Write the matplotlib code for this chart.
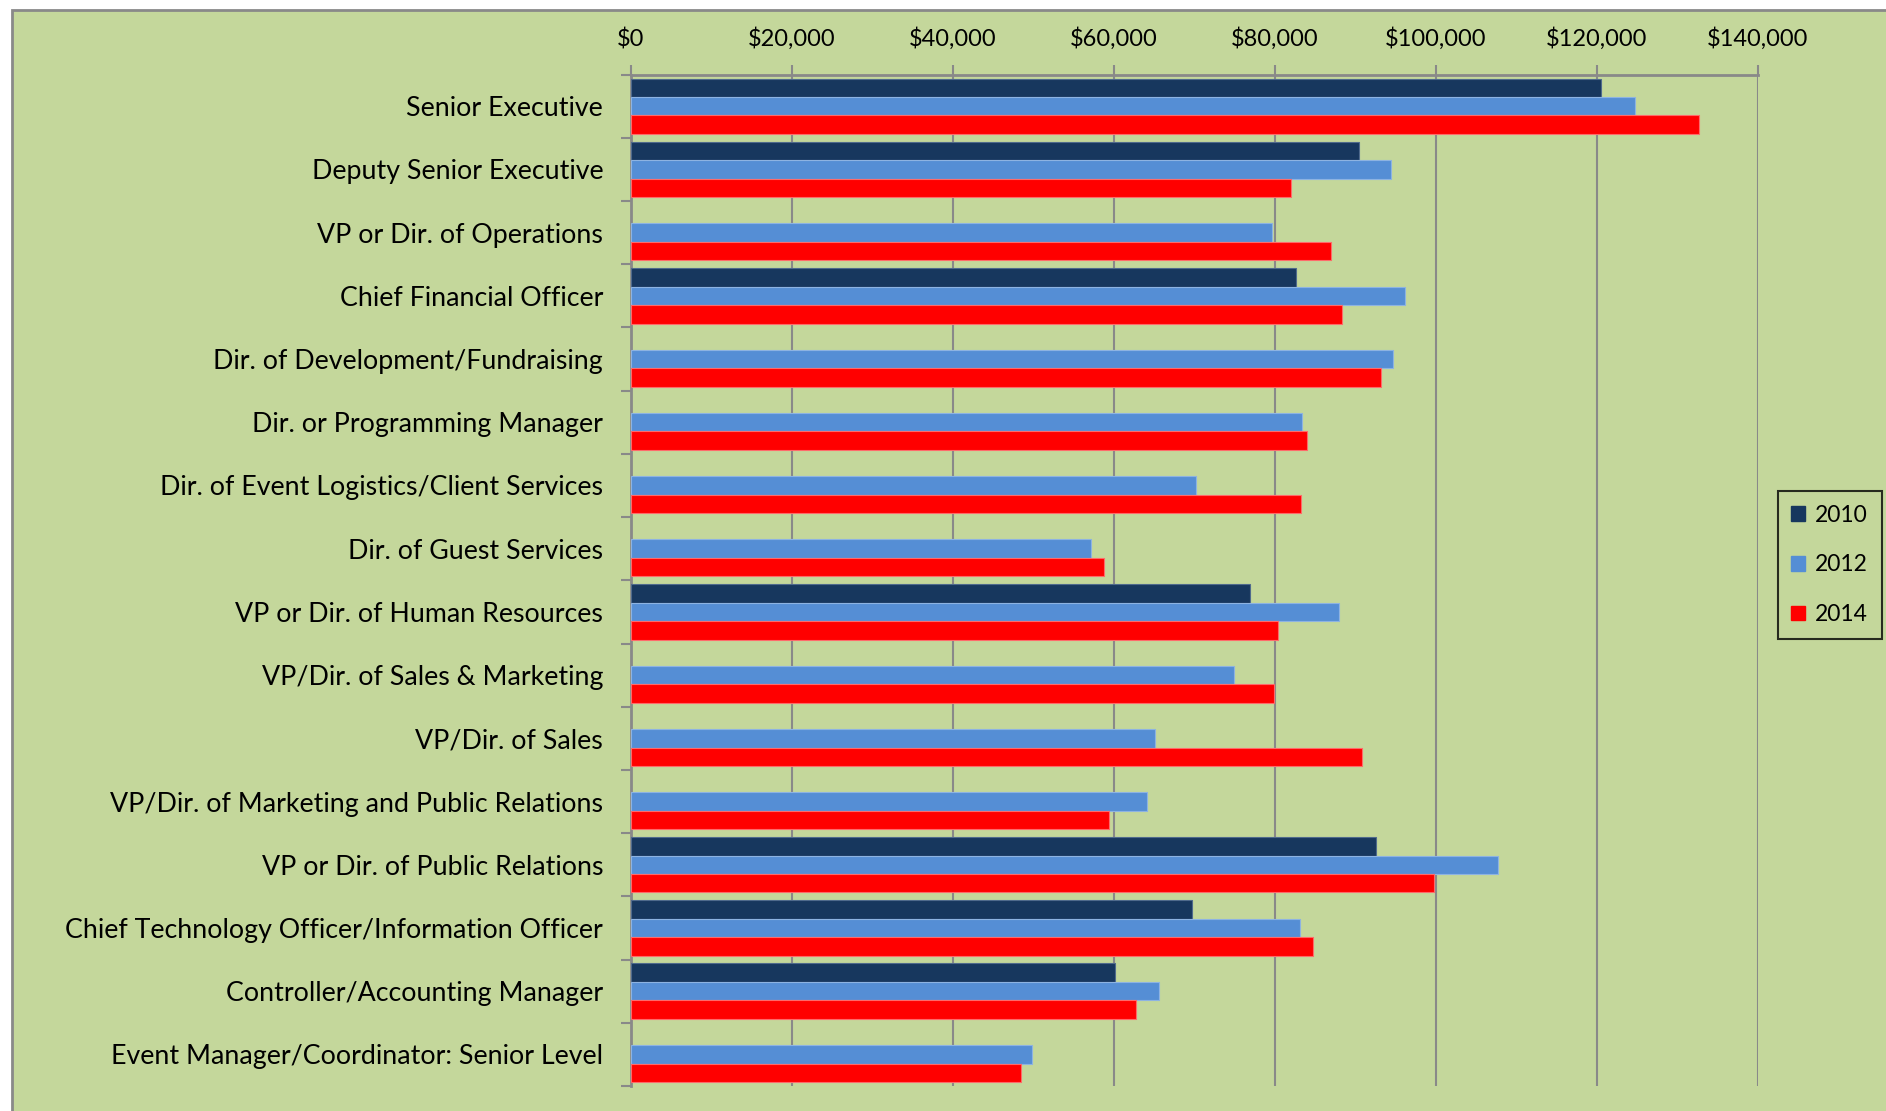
import matplotlib
matplotlib.use("Agg")
import matplotlib.pyplot as plt
import numpy as np
from matplotlib.patches import Rectangle, Patch
from matplotlib.ticker import FuncFormatter, MultipleLocator, FixedLocator

plt.rcParams['font.family'] = ['Lato', 'DejaVu Sans']

categories = [
    "Senior Executive",
    "Deputy Senior Executive",
    "VP or Dir. of Operations",
    "Chief Financial Officer",
    "Dir. of Development/Fundraising",
    "Dir. or Programming Manager",
    "Dir. of Event Logistics/Client Services",
    "Dir. of Guest Services",
    "VP or Dir. of Human Resources",
    "VP/Dir. of Sales & Marketing",
    "VP/Dir. of Sales",
    "VP/Dir. of Marketing and Public Relations",
    "VP or Dir. of Public Relations",
    "Chief Technology Officer/Information Officer",
    "Controller/Accounting Manager",
    "Event Manager/Coordinator: Senior Level",
]

s2010 = [120500, 90400, np.nan, 82600, np.nan, np.nan, np.nan, np.nan, 76900,
         np.nan, np.nan, np.nan, 92500, 69700, 60100, np.nan]
s2012 = [124700, 94400, 79600, 96100, 94700, 83400, 70200, 57200, 88000,
         74900, 65100, 64100, 107700, 83100, 65600, 49800]
s2014 = [132700, 82000, 87000, 88300, 93200, 84000, 83200, 58700, 80400,
         79900, 90800, 59400, 99800, 84700, 62700, 48500]

series = [("2010", s2010, "#17375E"), ("2012", s2012, "#558ED5"), ("2014", s2014, "#FF0000")]
edges = ["#4F6A8C", "#8DB3E2", "#FF6A6A"]

W, H = 1886, 1111
fig = plt.figure(figsize=(W / 100, H / 100), dpi=100)
fig.patch.set_facecolor("white")

bg = Rectangle((12 / W, -0.5), 2, 0.5 + 1 - 10 / H, transform=fig.transFigure,
               facecolor="#C4D79B", edgecolor="#898989", linewidth=2.0, zorder=-10)
fig.patches.append(bg)

ax = fig.add_axes([631 / W, 1 - 1086 / H, (1758 - 631) / W, (1086 - 74.6) / H])
ax.set_facecolor("none")

y = np.arange(len(categories))
bh = 0.292
for i, (name, vals, col) in enumerate(series):
    off = (i - 1) * bh
    ax.barh(y + off, vals, height=bh, color=col, edgecolor=edges[i], linewidth=0.8,
            label=name, zorder=3)

ax.set_xlim(0, 140000)
ax.set_ylim(len(categories) - 0.5, -0.5)

ax.xaxis.set_major_locator(MultipleLocator(20000))
ax.xaxis.set_major_formatter(FuncFormatter(lambda v, p: "${:,.0f}".format(v)))
ax.xaxis.tick_top()
ax.tick_params(axis="x", which="major", direction="out", length=7, width=1.5,
               color="#898989", labelsize=17, pad=10.5, labelcolor="black")
ax.grid(axis="x", color="#898989", linewidth=1.5, zorder=1)

ax.yaxis.set_major_locator(FixedLocator(y))
ax.set_yticklabels(categories)
ax.yaxis.set_minor_locator(FixedLocator(np.arange(-0.5, len(categories), 1.0)))
ax.tick_params(axis="y", which="major", length=0, labelsize=19.3, pad=20, labelcolor="black")
ax.tick_params(axis="y", which="minor", direction="out", length=7, width=1.5, color="#898989")

for side in ["right", "bottom"]:
    ax.spines[side].set_visible(False)
for side in ["top", "left"]:
    ax.spines[side].set_color("#898989")
    ax.spines[side].set_linewidth(2)

handles = [Patch(facecolor=c, edgecolor=c) for _, _, c in series]
leg = fig.legend(handles, [n for n, _, _ in series], loc="upper right",
                 bbox_to_anchor=(1882 / W, 1 - 491 / H), frameon=True, fontsize=16.5,
                 handlelength=0.6, handleheight=0.6, handletextpad=0.45,
                 labelspacing=1.25, borderpad=0.6, borderaxespad=0, fancybox=False)
leg.get_frame().set_edgecolor("black")
leg.get_frame().set_linewidth(1.5)
leg.get_frame().set_facecolor("#C4D79B")

fig.savefig("out.png", dpi=100)
